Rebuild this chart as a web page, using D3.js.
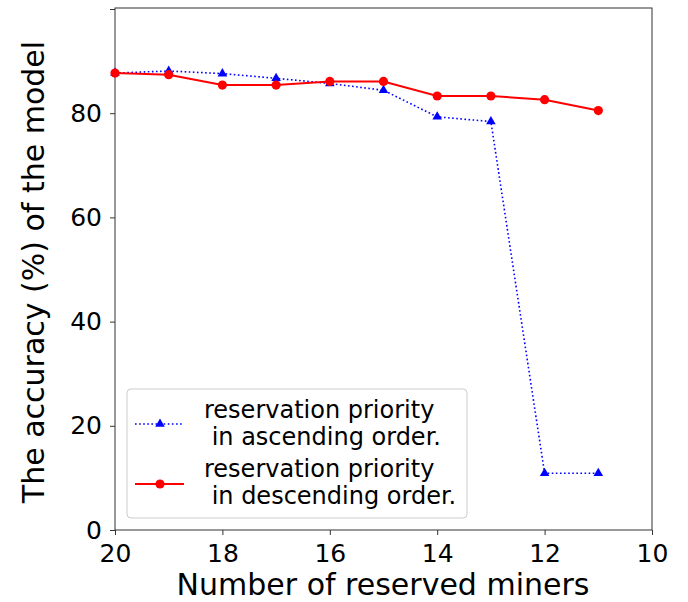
<!DOCTYPE html>
<html><head><meta charset="utf-8">
<script src="https://cdn.jsdelivr.net/npm/d3@7"></script>
<style>body{margin:0;background:#fff}svg{display:block;font-family:"DejaVu Sans",sans-serif}</style>
</head><body>
<svg id="c" width="688" height="602"></svg>
<script>
const xValues = [20,19,18,17,16,15,14,13,12,11];
const ascending = [87.7,88.1,87.6,86.7,85.7,84.4,79.3,78.4,10.9,10.9];
const descending = [87.7,87.4,85.4,85.4,86.1,86.1,83.3,83.3,82.6,80.5];
const xTicks = [20,18,16,14,12,10];
const yTicks = [0,20,40,60,80,100];
const legendLabels = [["reservation priority"," in ascending order."],["reservation priority"," in descending order."]];

const svg = d3.select("#c");
const L=115,R=652,T=8,B=530;
const x = d3.scaleLinear().domain([20,10]).range([L,R]);
const y = d3.scaleLinear().domain([0,100]).range([B,9]);

const xa = svg.append("g").attr("transform",`translate(0,${B})`).call(d3.axisBottom(x).tickValues(xTicks).tickSize(5).tickPadding(9).tickFormat(d3.format("d")));
const ya = svg.append("g").attr("transform",`translate(${L},0)`).call(d3.axisLeft(y).tickValues(yTicks).tickSize(5).tickPadding(8).tickFormat(d3.format("d")));
[xa,ya].forEach(a=>{a.select(".domain").remove();a.selectAll("text").attr("font-size",25).attr("fill","#000").attr("font-family","DejaVu Sans");a.selectAll("line").attr("stroke","#333");});
// the top label (100) sits above the visible frame in the reference
ya.selectAll(".tick").filter(d=>d===100).select("text").attr("dy","-0.55em");

svg.append("rect").attr("x",L).attr("y",T).attr("width",R-L).attr("height",B-T).attr("fill","none").attr("stroke","#333").attr("stroke-width",1);

svg.append("text").attr("x",383).attr("y",595).attr("text-anchor","middle").attr("font-size",30).text("Number of reserved miners");
svg.append("text").attr("transform",`translate(44,272) rotate(-90)`).attr("text-anchor","middle").attr("font-size",30).text("The accuracy (%) of the model");

const line = d3.line().x((d,i)=>x(xValues[i])).y(d=>y(d));
svg.append("path").datum(ascending).attr("d",line).attr("fill","none").attr("stroke","#0000ff").attr("stroke-width",1.6).attr("stroke-dasharray","1.6,2.5");
svg.append("path").datum(descending).attr("d",line).attr("fill","none").attr("stroke","#ff0000").attr("stroke-width",2);
const tri = d3.symbol().type(d3.symbolTriangle).size(40);
svg.selectAll(".tri").data(ascending).enter().append("path").attr("d",tri).attr("transform",(d,i)=>`translate(${x(xValues[i])},${y(d)})`).attr("fill","#0000ff");
svg.selectAll(".dot").data(descending).enter().append("circle").attr("cx",(d,i)=>x(xValues[i])).attr("cy",d=>y(d)).attr("r",4.6).attr("fill","#ff0000");

// legend
const lg = svg.append("g");
lg.append("rect").attr("x",127).attr("y",389).attr("width",340).attr("height",129).attr("rx",4).attr("fill","#fff").attr("fill-opacity",0.8).attr("stroke","#ccc");
const rows=[{y:424,c:"#0000ff",dash:"1.6,2.5",w:1.6,m:"tri",t:418},{y:484,c:"#ff0000",dash:null,w:2,m:"dot",t:477}];
rows.forEach((r,i)=>{
  lg.append("line").attr("x1",135).attr("x2",184).attr("y1",r.y).attr("y2",r.y).attr("stroke",r.c).attr("stroke-width",r.w).attr("stroke-dasharray",r.dash);
  if(r.m==="tri") lg.append("path").attr("d",tri).attr("transform",`translate(160,${r.y})`).attr("fill",r.c);
  else lg.append("circle").attr("cx",160).attr("cy",r.y).attr("r",4.6).attr("fill",r.c);
  const t = lg.append("text").attr("x",204).attr("y",r.t).attr("font-size",24).attr("fill","#000").style("white-space","pre");
  t.append("tspan").attr("x",204).text(legendLabels[i][0]);
  t.append("tspan").attr("x",204).attr("dy",27).text(legendLabels[i][1]);
});
</script>
</body></html>
